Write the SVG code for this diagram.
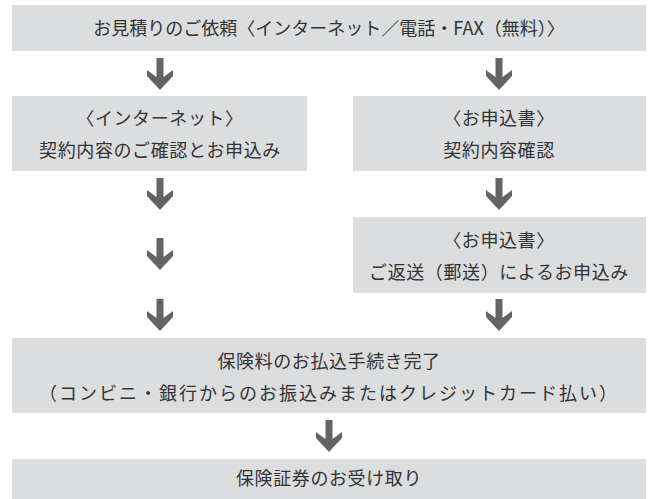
<svg xmlns="http://www.w3.org/2000/svg" width="653" height="499" viewBox="0 0 653 499">
<defs>
<style>
.box{fill:#dcdddf;}
.t{font-family:"Noto Sans CJK JP","Noto Sans",sans-serif;font-size:18px;fill:#333;text-anchor:middle;letter-spacing:0.6px;}
.tight{letter-spacing:0;}
.wide{letter-spacing:2px;}
.arr{fill:#646466;}
</style>
<path id="a" d="M-3.5,0 H3.5 V19 L13,12 V18 L0,32 L-13,18 V12 L-3.5,19 Z"/>
</defs>
<rect width="653" height="499" fill="#fff"/>
<g id="n1"><rect class="box" x="12" y="5" width="634" height="46"/><text class="t tight" x="329" y="34.5">お見積りのご依頼〈インターネット／電話・FAX（無料）〉</text></g>
<g id="n2"><rect class="box" x="12" y="96" width="295" height="75"/><text class="t" x="160" y="124.5">〈インターネット〉</text><text class="t" x="160" y="156.5">契約内容のご確認とお申込み</text></g>
<g id="n3"><rect class="box" x="353" y="96" width="293" height="75"/><text class="t" x="499" y="124.5">〈お申込書〉</text><text class="t" x="499" y="156.5">契約内容確認</text></g>
<g id="n4"><rect class="box" x="353" y="217" width="293" height="76"/><text class="t" x="499" y="246.5">〈お申込書〉</text><text class="t" x="499" y="278.5">ご返送（郵送）によるお申込み</text></g>
<g id="n5"><rect class="box" x="12" y="338" width="634" height="75"/><text class="t" x="329" y="367.5">保険料のお払込手続き完了</text><text class="t wide" x="329" y="399.5">（コンビニ・銀行からのお振込みまたはクレジットカード払い）</text></g>
<g id="n6"><rect class="box" x="12" y="459" width="634" height="40"/><text class="t" x="329" y="484.5">保険証券のお受け取り</text></g>
<g id="connectors" class="arr">
<use href="#a" x="160" y="58"/>
<use href="#a" x="499" y="58"/>
<use href="#a" x="160" y="178"/>
<use href="#a" x="499" y="178"/>
<use href="#a" x="160" y="238"/>
<use href="#a" x="160" y="299"/>
<use href="#a" x="499" y="299"/>
<use href="#a" x="329" y="420"/>
</g>
</svg>
